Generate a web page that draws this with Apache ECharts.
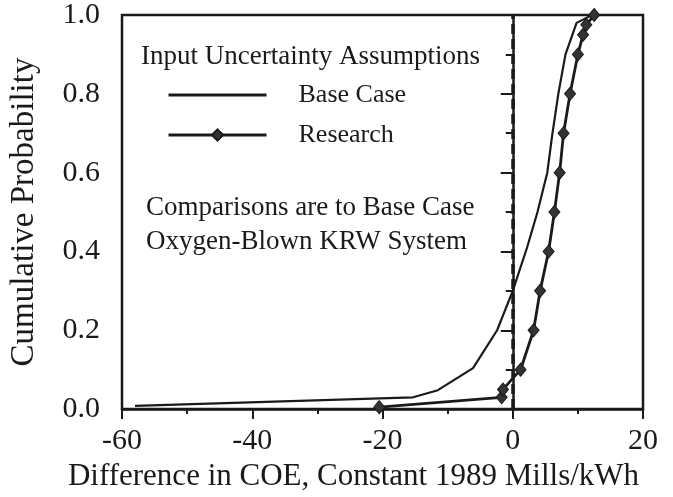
<!DOCTYPE html>
<html>
<head>
<meta charset="utf-8">
<script src="https://cdn.jsdelivr.net/npm/echarts@6/dist/echarts.min.js"></script>
<style>
  html, body { margin: 0; padding: 0; background: #fff; }
  #chart { width: 673px; height: 497px; }
</style>
</head>
<body>
<div id="chart"></div>
<script>
// values
const baseX = [-58, -15.3, -11.5, -6.1, -2.4, 0, 2.2, 3.8, 5.3, 6.1, 7.0, 8.1, 9.8, 12.2]
const baseY = [0.008, 0.03, 0.048, 0.104, 0.2, 0.3, 0.41, 0.5, 0.6, 0.7, 0.8, 0.9, 0.98, 1.0]
const researchX = [-20.5, -1.7, -1.5, 1.2, 3.2, 4.2, 5.5, 6.4, 7.2, 7.8, 8.8, 10.0, 10.8, 11.3, 12.5]
const researchY = [0.005, 0.03, 0.05, 0.1, 0.2, 0.3, 0.4, 0.5, 0.6, 0.7, 0.8, 0.9, 0.95, 0.975, 1.0]
const xTicks = [-60, -40, -20, 0, 20]

const font = '"Liberation Serif", "Times New Roman", serif'
const ink = '#1a1a1a'

const pairs = (xs, ys) => xs.map((x, i) => [x, ys[i]])

let myChart = echarts.init(document.getElementById('chart'))

myChart.setOption({
  animation: false,
  backgroundColor: '#fff',
  textStyle: { fontFamily: font, color: ink },
  title: {
    text: 'Input Uncertainty Assumptions',
    left: 141,
    top: 43,
    padding: 0,
    textStyle: { fontFamily: font, fontSize: 27, fontWeight: 'normal', color: ink },
  },
  legend: {
    orient: 'vertical',
    left: 167,
    top: 82,
    itemWidth: 98,
    itemHeight: 14,
    itemGap: 14,
    padding: 0,
    data: [
      { name: 'Base Case', itemStyle: { opacity: 0 }, lineStyle: { width: 3 } },
      { name: 'Research', lineStyle: { width: 3 } },
    ],
    textStyle: { fontFamily: font, fontSize: 26, color: ink, padding: [0, 0, 0, 27] },
  },
  graphic: [
    {
      type: 'text',
      left: 146,
      top: 191,
      style: {
        text: 'Comparisons are to Base Case\nOxygen-Blown KRW System',
        font: '27px ' + font,
        fill: ink,
        lineHeight: 34,
      },
    },
  ],
  grid: {
    left: 120,
    right: 30,
    top: 15,
    bottom: 86,
    show: true,
    borderColor: ink,
    borderWidth: 2.5,
    backgroundColor: 'transparent',
  },
  xAxis: {
    type: 'value',
    min: -60,
    max: 20,
    interval: 20,
    name: 'Difference in COE, Constant 1989 Mills/kWh',
    nameLocation: 'middle',
    nameGap: 44,
    nameTextStyle: { fontFamily: font, fontSize: 31, color: ink, padding: [0, 58, 0, 0] },
    axisLine: { onZero: false, lineStyle: { color: ink, width: 2.5 } },
    axisTick: { show: true, length: 10, lineStyle: { color: ink, width: 2 } },
    minorTick: { show: true, splitNumber: 2, length: 5, lineStyle: { color: ink, width: 2 } },
    axisLabel: {
      fontFamily: font,
      fontSize: 30,
      color: ink,
      margin: 17,
      customValues: xTicks,
    },
    splitLine: { show: false },
  },
  yAxis: {
    type: 'value',
    min: 0,
    max: 1,
    interval: 0.2,
    name: 'Cumulative Probability',
    nameLocation: 'middle',
    nameGap: 81,
    nameTextStyle: { fontFamily: font, fontSize: 33, color: ink },
    axisLine: { lineStyle: { color: ink, width: 2.5 } },
    axisTick: { show: true, length: 12, lineStyle: { color: ink, width: 2 } },
    minorTick: { show: true, splitNumber: 2, length: 7, lineStyle: { color: ink, width: 2 } },
    axisLabel: {
      fontFamily: font,
      fontSize: 30,
      color: ink,
      margin: 22,
      formatter: (v) => v.toFixed(1),
    },
    splitLine: { show: false },
  },
  series: [
    {
      name: 'Base Case',
      type: 'line',
      data: pairs(baseX, baseY),
      symbol: 'none',
      lineStyle: { color: ink, width: 2.2 },
      itemStyle: { color: ink },
      markLine: {
        silent: true,
        symbol: 'none',
        label: { show: false },
        lineStyle: { color: ink, width: 3.5, type: [10, 5] },
        data: [{ xAxis: 0 }],
      },
      z: 3,
    },
    {
      name: 'Research',
      type: 'line',
      data: pairs(researchX, researchY),
      symbol: 'diamond',
      symbolSize: [11, 13],
      lineStyle: { color: ink, width: 2.8 },
      itemStyle: { color: '#333', borderColor: ink, borderWidth: 1 },
      z: 4,
    },
  ],
})
</script>
</body>
</html>
